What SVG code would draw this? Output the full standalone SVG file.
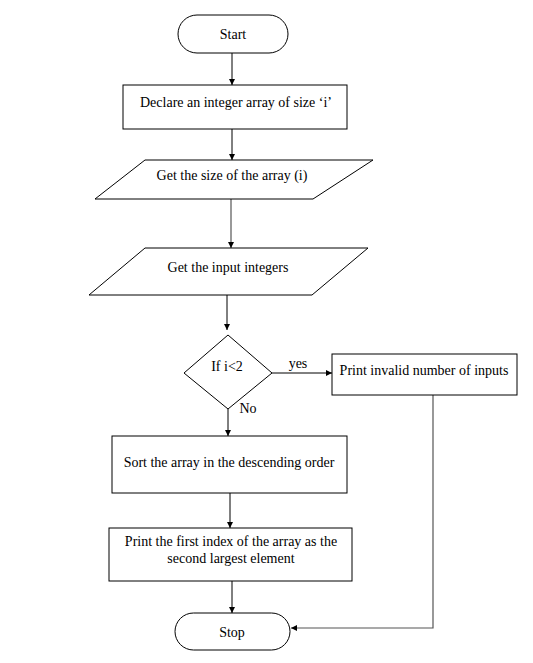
<svg xmlns="http://www.w3.org/2000/svg" width="533" height="663" viewBox="0 0 533 663">
<style>
.s{fill:#fff;stroke:#000;stroke-width:1}
.t{font-family:'Liberation Serif',Times,serif;font-size:14px;fill:#000;text-anchor:middle}
.c{fill:none;stroke:#000;stroke-width:1}
.g{fill:none;stroke:#555;stroke-width:1.2}
</style>
<defs>
<marker id="a" markerWidth="8" markerHeight="8" refX="7" refY="4" orient="auto" markerUnits="userSpaceOnUse">
<path d="M1,1 L7,4 L1,7 Z" fill="#000"/>
</marker>
</defs>
<rect width="533" height="663" fill="#fff"/>
<g id="connectors">
<line class="c" x1="232" y1="53" x2="232" y2="85" marker-end="url(#a)"/>
<line class="c" x1="232" y1="129" x2="232" y2="160" marker-end="url(#a)"/>
<line class="g" x1="231" y1="199" x2="231" y2="248" marker-end="url(#a)"/>
<line class="c" x1="227" y1="295" x2="227" y2="330" marker-end="url(#a)"/>
<line class="c" x1="272" y1="373" x2="332" y2="373" marker-end="url(#a)"/>
<line class="c" x1="228" y1="409" x2="228" y2="436" marker-end="url(#a)"/>
<line class="c" x1="230" y1="493" x2="230" y2="528" marker-end="url(#a)"/>
<line class="c" x1="232" y1="581" x2="232" y2="613" marker-end="url(#a)"/>
<polyline class="g" points="433,395 433,628 291,628" marker-end="url(#a)"/>
<text class="t" x="298" y="368" font-size="12">yes</text>
<text class="t" x="248" y="413" font-size="12">No</text>
</g>
<g id="start">
<rect class="s" x="178" y="15" width="110" height="38" rx="19"/>
<text class="t" x="233" y="39">Start</text>
</g>
<g id="declare">
<rect class="s" x="123" y="85" width="224" height="44"/>
<text class="t" x="236" y="107">Declare an integer array of size ‘i’</text>
</g>
<g id="getsize">
<polygon class="s" points="145,160 373,160 313,199 95,199"/>
<text class="t" x="232" y="180">Get the size of the array (i)</text>
</g>
<g id="getinput">
<polygon class="s" points="145,248 368,248 312,295 89,295"/>
<text class="t" x="228" y="272">Get the input integers</text>
</g>
<g id="decision">
<polygon class="s" points="228,335 272,373 228,409 184,373"/>
<text class="t" x="227" y="371">If i&lt;2</text>
</g>
<g id="invalid">
<rect class="s" x="332" y="354" width="185" height="41"/>
<text class="t" x="424" y="375">Print invalid number of inputs</text>
</g>
<g id="sort">
<rect class="s" x="112" y="436" width="235" height="57"/>
<text class="t" x="229" y="467">Sort the array in the descending order</text>
</g>
<g id="printfirst">
<rect class="s" x="109" y="528" width="243" height="53"/>
<text class="t" x="231" y="546">Print the first index of the array as the</text>
<text class="t" x="231" y="563">second largest element</text>
</g>
<g id="stop">
<rect class="s" x="175" y="613" width="115" height="37" rx="18.5"/>
<text class="t" x="232" y="637">Stop</text>
</g>
</svg>
